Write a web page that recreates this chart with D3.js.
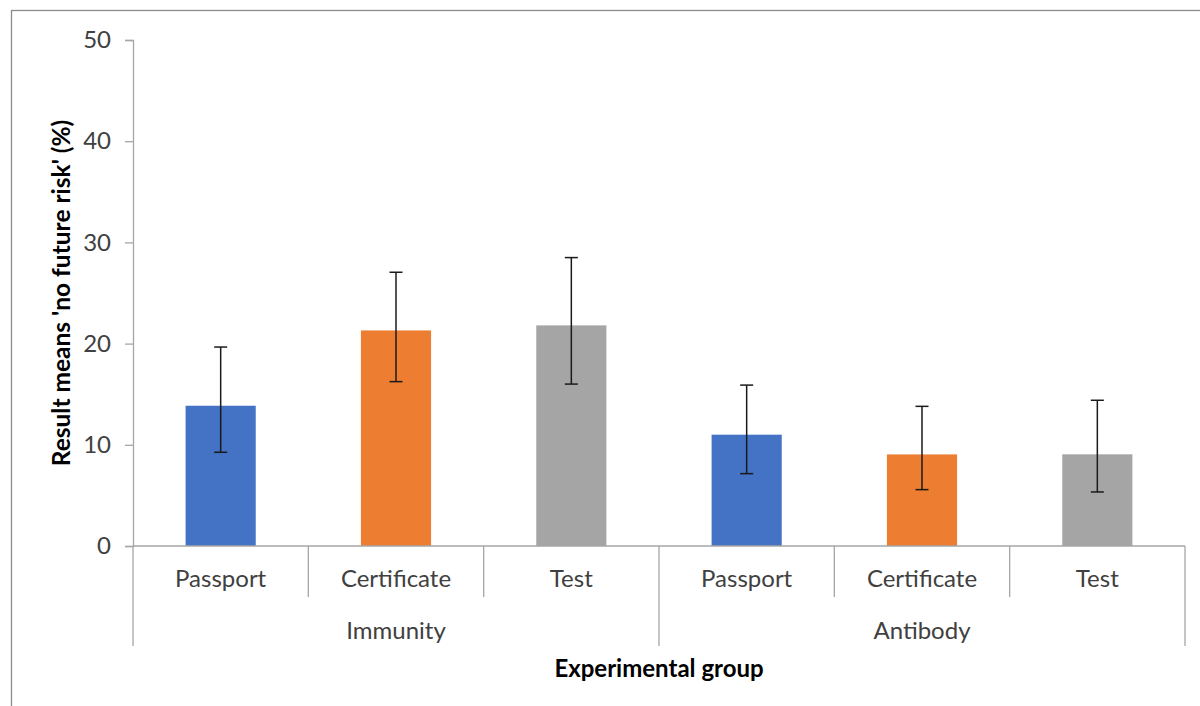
<!DOCTYPE html>
<html>
<head>
<meta charset="utf-8">
<script src="https://cdn.jsdelivr.net/npm/d3@7"></script>
<style>
  html, body { margin: 0; padding: 0; background: #fff; }
  svg { display: block; }
  text { font-family: Lato, "Open Sans", sans-serif; }
</style>
</head>
<body>
<svg id="chart" width="1200" height="706"></svg>
<script>
// ---- data ----
const groups = ["Immunity", "Antibody"];
const types = ["Passport", "Certificate", "Test"];
const values = [13.86, 21.3, 21.8, 11.0, 9.05, 9.06];
const errUpper = [19.66, 27.05, 28.5, 15.9, 13.8, 14.4];
const errLower = [9.26, 16.24, 16.0, 7.15, 5.57, 5.34];
const yTicks = [0, 10, 20, 30, 40, 50];
const colors = ["#4472C4", "#ED7D31", "#A5A5A5"];
const yTitle = "Result means 'no future risk' (%)";
const xTitle = "Experimental group";

(function () {
const rows = [];
groups.forEach((g, gi) => types.forEach((t, ti) => {
  const i = gi * types.length + ti;
  rows.push({ key: g + "|" + t, group: g, type: t, ti, v: values[i], hi: errUpper[i], lo: errLower[i] });
}));

const svg = d3.select("#chart");
const mLeft = 133, mRight = 1185, mTop = 40, mBottom = 546;

// outer border
svg.append("rect").attr("x", 11.5).attr("y", 10.5).attr("width", 1200).attr("height", 720)
  .attr("fill", "none").attr("stroke", "#8c8c8c").attr("stroke-width", 1.3);

const x = d3.scaleBand().domain(rows.map(d => d.key)).range([mLeft, mRight]).padding(0);
const xg = d3.scaleBand().domain(groups).range([mLeft, mRight]).padding(0);
const y = d3.scaleLinear().domain([0, 50]).range([mBottom, mTop]);
const barW = x.bandwidth() * 0.4;

// y axis
const yAxis = d3.axisLeft(y).tickValues(yTicks).tickSize(8).tickPadding(14);
const ya = svg.append("g").attr("transform", `translate(${mLeft},0)`).call(yAxis);
ya.select(".domain").attr("stroke", "#a6a6a6").attr("stroke-width", 1.3);
ya.selectAll(".tick line").attr("stroke", "#a6a6a6").attr("stroke-width", 1.3);
ya.selectAll(".tick text").attr("fill", "#404040").style("font-size", "24px")
  .style("font-family", "Lato, sans-serif");

// bars
svg.append("g").selectAll("rect").data(rows).join("rect")
  .attr("x", d => x(d.key) + (x.bandwidth() - barW) / 2)
  .attr("width", barW)
  .attr("y", d => y(d.v))
  .attr("height", d => y(0) - y(d.v))
  .attr("fill", d => colors[d.ti]);

// error bars
const eb = svg.append("g").attr("stroke", "#1a1a1a").attr("stroke-width", 1.5);
rows.forEach(d => {
  const cx = x(d.key) + x.bandwidth() / 2;
  eb.append("line").attr("x1", cx).attr("x2", cx).attr("y1", y(d.hi)).attr("y2", y(d.lo));
  eb.append("line").attr("x1", cx - 6.5).attr("x2", cx + 6.5).attr("y1", y(d.hi)).attr("y2", y(d.hi));
  eb.append("line").attr("x1", cx - 6.5).attr("x2", cx + 6.5).attr("y1", y(d.lo)).attr("y2", y(d.lo));
});

// x axis line
const ax = svg.append("g").attr("stroke", "#a6a6a6").attr("stroke-width", 1.3);
ax.append("line").attr("x1", mLeft).attr("x2", mRight).attr("y1", mBottom).attr("y2", mBottom);
rows.forEach(d => {
  if (d.ti === 0) return;
  ax.append("line").attr("x1", x(d.key)).attr("x2", x(d.key)).attr("y1", mBottom).attr("y2", 597);
});
groups.forEach(g => {
  ax.append("line").attr("x1", xg(g)).attr("x2", xg(g)).attr("y1", mBottom).attr("y2", 646);
});
ax.append("line").attr("x1", mRight).attr("x2", mRight).attr("y1", mBottom).attr("y2", 646);

// category labels
svg.append("g").selectAll("text").data(rows).join("text")
  .attr("x", d => x(d.key) + x.bandwidth() / 2)
  .attr("y", 587)
  .attr("text-anchor", "middle")
  .attr("fill", "#404040")
  .style("font-size", "24px")
  .text(d => d.type);

// group labels
svg.append("g").selectAll("text").data(groups).join("text")
  .attr("x", g => xg(g) + xg.bandwidth() / 2)
  .attr("y", 639)
  .attr("text-anchor", "middle")
  .attr("fill", "#404040")
  .style("font-size", "24px")
  .text(g => g);

// axis titles
svg.append("text").attr("x", (mLeft + mRight) / 2 + 0).attr("y", 677)
  .attr("text-anchor", "middle").attr("fill", "#000")
  .style("font-size", "24px").style("font-weight", "bold").text(xTitle);

svg.append("text").attr("transform", `translate(70,293) rotate(-90)`)
  .attr("text-anchor", "middle").attr("fill", "#000")
  .style("font-size", "24.5px").style("font-weight", "bold").text(yTitle);
})();
</script>
</body>
</html>
